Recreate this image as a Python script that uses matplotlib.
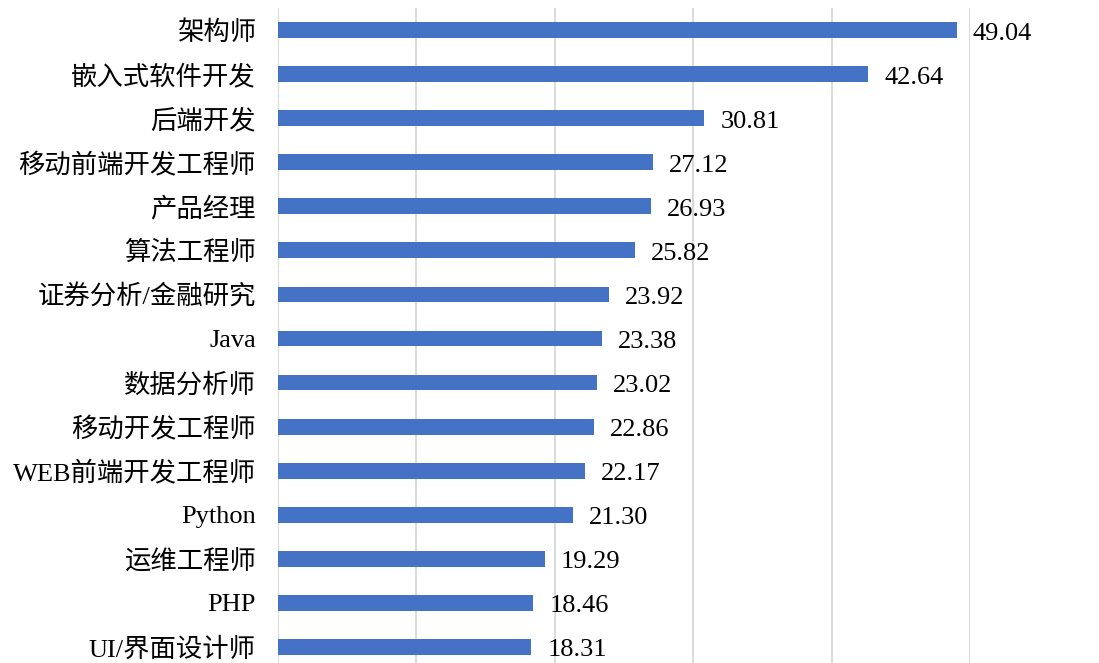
import matplotlib
matplotlib.use('Agg')
import matplotlib.pyplot as plt

plt.rcParams['font.family'] = ['Liberation Serif', 'Noto Sans CJK SC']

# 岗位与平均薪资（从上到下）
jobs = ['架构师', '嵌入式软件开发', '后端开发', '移动前端开发工程师', '产品经理',
        '算法工程师', '证券分析/金融研究', 'Java', '数据分析师', '移动开发工程师',
        'WEB前端开发工程师', 'Python', '运维工程师', 'PHP', 'UI/界面设计师']
salary = [49.04, 42.64, 30.81, 27.12, 26.93, 25.82, 23.92, 23.38, 23.02, 22.86,
          22.17, 21.30, 19.29, 18.46, 18.31]

fig = plt.figure(figsize=(10.99, 6.63), dpi=100)
ax = fig.add_axes([278 / 1099, -6 / 663, 692 / 1099, 661 / 663])

pos = list(range(len(jobs)))
ax.barh(pos, salary, height=0.36, color='#4472C4', zorder=3)

for p, v in zip(pos, salary):
    ax.annotate('%.2f' % v, (v, p), xytext=(11.5, -2.5), textcoords='offset points',
                ha='left', va='center', fontsize=19, color='#000000')

ax.set_ylim(len(jobs) - 0.5, -0.5)
ax.set_xlim(0, 50)
ax.set_yticks(pos)
ax.set_yticklabels(jobs, fontsize=19)
ax.tick_params(axis='y', length=0, pad=16)
ax.tick_params(axis='x', length=0, labelbottom=False)
ax.set_xticks([0, 10, 20, 30, 40, 50])
ax.grid(axis='x', color='#d9d9d9', linewidth=1.4, zorder=0)

for s in ['top', 'right', 'bottom', 'left']:
    ax.spines[s].set_visible(False)

fig.savefig('out.png', dpi=100)
